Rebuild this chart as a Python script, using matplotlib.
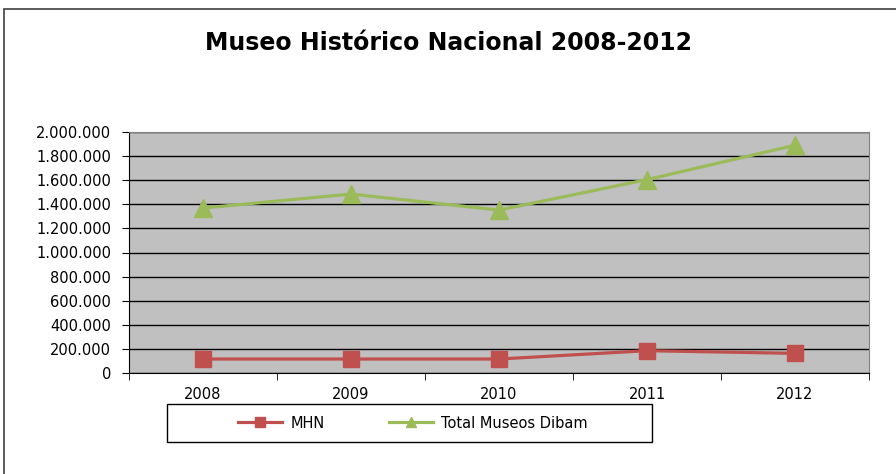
import matplotlib.pyplot as plt
from matplotlib.patches import Rectangle
from matplotlib.ticker import FuncFormatter, FixedLocator

plt.rcParams['font.family'] = ['DejaVu Sans']

# datos
years = ['2008', '2009', '2010', '2011', '2012']
mhn = [116000, 116000, 116000, 185000, 163000]
total_dibam = [1369000, 1485000, 1352000, 1605000, 1890000]

fig = plt.figure(figsize=(8.96, 4.74), dpi=100)
W, H = 896, 474
ax = fig.add_axes([129 / W, 1 - 373 / H, 740 / W, 241 / H])

# marco exterior
fig.patches.append(Rectangle((4 / W, -0.1), 1.2, 1 - 9 / H + 0.1, transform=fig.transFigure,
                             fill=False, edgecolor='#404040', linewidth=1.2))
# caja de la leyenda
fig.patches.append(Rectangle((167 / W, 1 - 442 / H), 485 / W, 38 / H, transform=fig.transFigure,
                             fill=False, edgecolor='black', linewidth=1))

ax.set_facecolor('#C0C0C0')
x = range(len(years))
ax.plot(x, mhn, color='#C0504D', linewidth=2.3, marker='s', markersize=12, label='MHN')
ax.plot(x, total_dibam, color='#9BBB59', linewidth=2.3, marker='^', markersize=12.5,
        label='Total Museos Dibam')

ax.set_xlim(-0.5, len(years) - 0.5)
ax.set_ylim(0, 2000000)
ax.set_yticks(range(0, 2000001, 200000))
ax.yaxis.set_major_formatter(FuncFormatter(lambda v, p: f'{int(v):,}'.replace(',', '.')))
ax.set_xticks(list(x))
ax.set_xticklabels(years)
ax.xaxis.set_minor_locator(FixedLocator([i - 0.5 for i in range(len(years) + 1)]))
ax.tick_params(axis='x', which='major', length=0, pad=10, labelsize=10.5)
ax.tick_params(axis='x', which='minor', length=5, direction='out', color='black')
ax.tick_params(axis='y', length=5, direction='out', labelsize=10.5, pad=8)
ax.grid(axis='y', color='black', linewidth=1)
ax.set_axisbelow(True)
ax.spines['left'].set_color('black')
ax.spines['bottom'].set_color('black')
ax.spines['right'].set_color('#808080')
ax.spines['top'].set_color('#808080')

fig.text(448 / W, 1 - 43 / H, 'Museo Histórico Nacional 2008-2012', ha='center', va='center',
         fontsize=17, fontweight='bold')

leg = fig.legend(loc='center', bbox_to_anchor=(413 / W, 1 - 423 / H),
                 ncol=2, frameon=False, fontsize=10.5, handlelength=3.0,
                 markerscale=0.55, columnspacing=4.4, handletextpad=0.6)

fig.savefig('out.png', dpi=100)
